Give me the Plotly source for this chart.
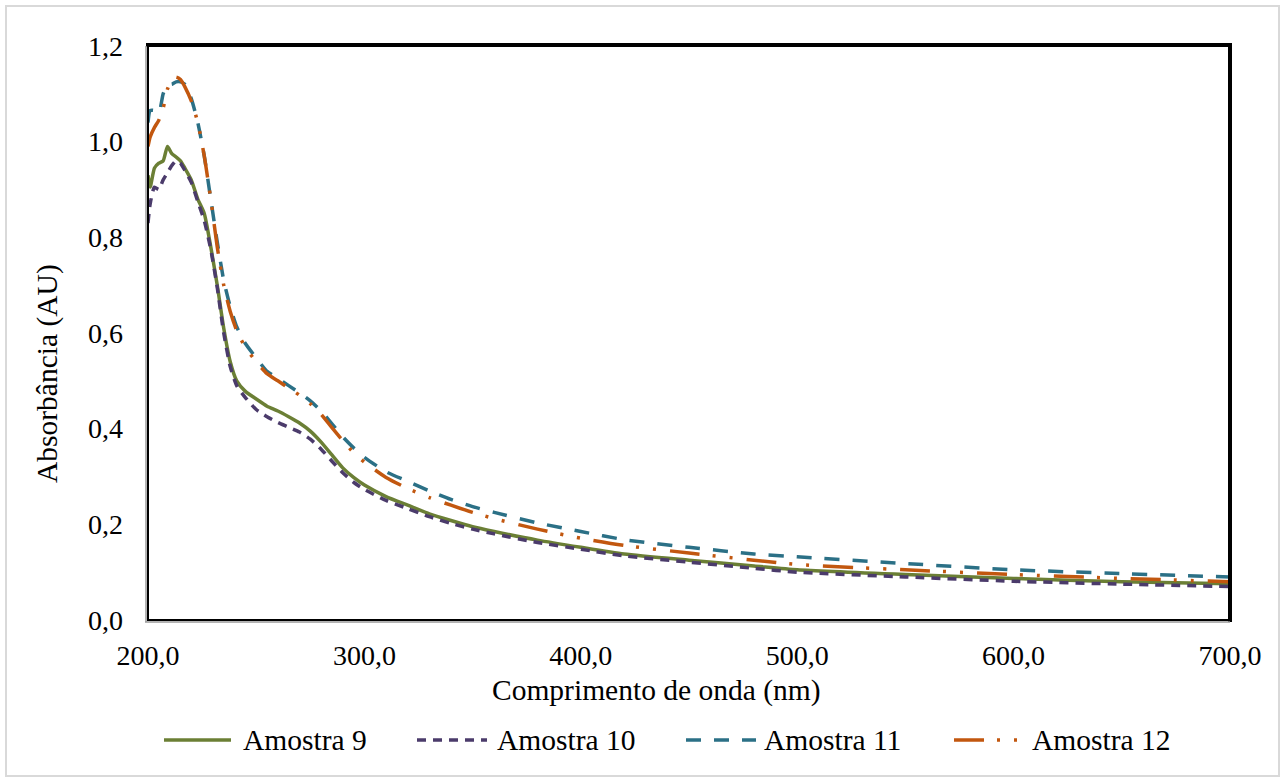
import plotly.graph_objects as go

wavelength = [200, 201, 203, 205, 207, 209, 211, 213, 215, 217, 220, 223, 226, 229, 232, 235, 238, 241,
              245, 250, 255, 260, 265, 270, 275, 280, 285, 290, 295, 300, 310, 320, 330, 340, 350, 360,
              380, 400, 420, 450, 480, 500, 550, 600, 650, 700]

amostra9 = [0.93, 0.905, 0.945, 0.955, 0.96, 0.99, 0.975, 0.968, 0.96, 0.945, 0.92, 0.88, 0.85, 0.78,
            0.70, 0.61, 0.54, 0.50, 0.478, 0.462, 0.447, 0.437, 0.425, 0.412, 0.395, 0.372, 0.345,
            0.318, 0.298, 0.282, 0.258, 0.24, 0.222, 0.208, 0.195, 0.185, 0.167, 0.152, 0.138, 0.125,
            0.113, 0.105, 0.095, 0.087, 0.08, 0.076]

amostra10 = [0.83, 0.87, 0.905, 0.90, 0.92, 0.935, 0.95, 0.96, 0.955, 0.94, 0.915, 0.875, 0.835, 0.775,
             0.695, 0.60, 0.53, 0.49, 0.465, 0.44, 0.425, 0.413, 0.403, 0.393, 0.378, 0.357, 0.332,
             0.308, 0.288, 0.273, 0.25, 0.233, 0.216, 0.202, 0.19, 0.18, 0.162, 0.148, 0.134, 0.121,
             0.108, 0.1, 0.09, 0.081, 0.075, 0.07]

amostra11 = [1.04, 1.065, 1.065, 1.06, 1.10, 1.12, 1.12, 1.125, 1.125, 1.12, 1.09, 1.04, 0.97, 0.88,
             0.79, 0.71, 0.655, 0.613, 0.578, 0.548, 0.52, 0.505, 0.49, 0.475, 0.458, 0.437, 0.41,
             0.383, 0.36, 0.34, 0.31, 0.29, 0.27, 0.252, 0.237, 0.225, 0.203, 0.185, 0.168, 0.152,
             0.138, 0.132, 0.118, 0.105, 0.097, 0.09]

amostra12 = [0.99, 1.01, 1.03, 1.045, 1.07, 1.11, 1.13, 1.135, 1.13, 1.115, 1.085, 1.04, 0.97, 0.88,
             0.78, 0.70, 0.645, 0.605, 0.57, 0.54, 0.515, 0.5, 0.485, 0.47, 0.452, 0.43, 0.402,
             0.375, 0.35, 0.33, 0.298, 0.275, 0.256, 0.24, 0.225, 0.212, 0.19, 0.171, 0.156, 0.14,
             0.125, 0.116, 0.105, 0.095, 0.087, 0.08]

series_names = ["Amostra 9", "Amostra 10", "Amostra 11", "Amostra 12"]
series_values = [amostra9, amostra10, amostra11, amostra12]
series_colors = ["#6B7F35", "#4B3B6B", "#2B7086", "#C2570F"]
series_dashes = ["solid", "9px,7px", "15px,13px", "30px,13px,3px,14px,3px,14px"]

x_ticks = [200, 300, 400, 500, 600, 700]
y_ticks = [0, 0.2, 0.4, 0.6, 0.8, 1.0, 1.2]

FONT = "Liberation Serif"
FS = 28
FS_T = 29.5

W, H = 1285, 782
L, R, T, B = 148, 55, 46, 162
PW, PH = W - L - R, H - T - B


def px(xpix):
    return (xpix - L) / PW


def py(ypix):
    return (H - B - ypix) / PH


fig = go.Figure()
for name, vals, color, dash in zip(series_names, series_values, series_colors, series_dashes):
    fig.add_trace(go.Scatter(
        x=wavelength, y=vals, name=name, mode="lines", showlegend=False,
        line=dict(color=color, width=3.5, dash=dash, shape="spline", smoothing=0.6),
    ))

fig.update_layout(
    width=W, height=H,
    margin=dict(l=L, r=R, t=T, b=B, autoexpand=False),
    paper_bgcolor="white", plot_bgcolor="white",
    separators=",.",
    font=dict(family=FONT, size=FS, color="black"),
    showlegend=False,
)

fig.update_xaxes(range=[200, 700], tickvals=x_ticks, tickformat=".1f",
                 showgrid=False, zeroline=False, showline=False, ticks="",
                 ticklabelstandoff=16, tickfont=dict(family=FONT, size=FS, color="black"))
fig.update_yaxes(range=[0, 1.2], tickvals=y_ticks, tickformat=".1f",
                 showgrid=False, zeroline=False, showline=False, ticks="",
                 ticklabelstandoff=24, tickfont=dict(family=FONT, size=FS, color="black"))

fig.add_annotation(text="Comprimento de onda (nm)", xref="paper", yref="paper", x=px(656), y=py(690),
                   showarrow=False, font=dict(family=FONT, size=FS_T), xanchor="center", yanchor="middle")
fig.add_annotation(text="Absorbância (AU)", xref="paper", yref="paper", x=px(47), y=py(374),
                   showarrow=False, textangle=-90, font=dict(family=FONT, size=FS_T),
                   xanchor="center", yanchor="middle")

# manual legend (long line samples like the original)
leg_line_x = [(164, 231), (417, 487), (686, 756), (954, 1020)]
leg_text_x = [241, 495, 762, 1030]
leg_y = 740
for name, color, dash, (x0, x1), tx in zip(series_names, series_colors, series_dashes, leg_line_x, leg_text_x):
    fig.add_shape(type="line", xref="paper", yref="paper", x0=px(x0), x1=px(x1), y0=py(leg_y), y1=py(leg_y),
                  line=dict(color=color, width=3.5, dash=dash))
    fig.add_annotation(text=name, xref="paper", yref="paper", x=px(tx), y=py(leg_y), showarrow=False,
                       xanchor="left", yanchor="middle", font=dict(family=FONT, size=FS_T))

# plot frame
fig.add_shape(type="rect", xref="paper", yref="paper", x0=0, x1=1, y0=0, y1=1,
              line=dict(color="black", width=2), layer="above")
fig.add_shape(type="line", xref="paper", yref="paper", x0=px(146), x1=px(1232), y0=py(45), y1=py(45),
              line=dict(color="black", width=4), layer="above")
fig.add_shape(type="line", xref="paper", yref="paper", x0=px(1230), x1=px(1230), y0=py(622), y1=py(43),
              line=dict(color="black", width=4), layer="above")
fig.add_shape(type="line", xref="paper", yref="paper", x0=px(146), x1=px(146), y0=py(622), y1=py(46),
              line=dict(color="#9a9a9a", width=1.5), layer="above")
fig.add_shape(type="line", xref="paper", yref="paper", x0=px(145), x1=px(1230), y0=py(622), y1=py(622),
              line=dict(color="#9a9a9a", width=1.5), layer="above")

# outer chart border
fig.add_shape(type="rect", xref="paper", yref="paper",
              x0=px(6), x1=px(1279), y0=py(776), y1=py(6),
              line=dict(color="#D9D9D9", width=2), layer="below")

fig.write_html("out.html")
